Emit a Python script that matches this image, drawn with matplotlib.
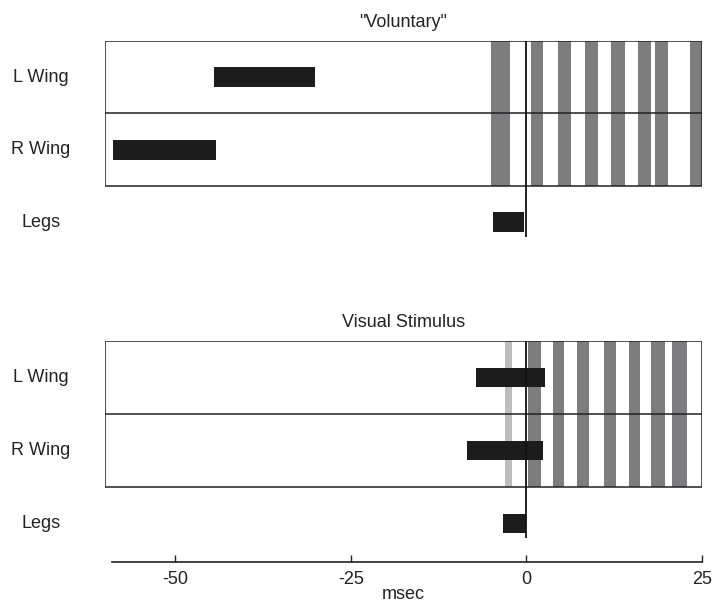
import matplotlib
matplotlib.use('Agg')
import matplotlib.pyplot as plt
from matplotlib.patches import Rectangle

plt.rcParams['font.family'] = ['Liberation Sans', 'DejaVu Sans']
plt.rcParams['axes.unicode_minus'] = False

# === DATOS ===
filas = ['L Wing', 'R Wing', 'Legs']

# franjas grises (inicio, fin) en msec
franjas_vol = [(-5.0, -2.3), (0.7, 2.3), (4.5, 6.3), (8.4, 10.2),
               (12.1, 14.0), (15.9, 17.7), (18.3, 20.1), (23.3, 25.0)]
franjas_vis = [(0.2, 2.1), (3.85, 5.4), (7.25, 8.9), (11.0, 12.7),
               (14.6, 16.2), (17.7, 19.7), (20.75, 22.9)]
franja_clara_vis = [(-3.1, -2.0)]

# barras negras (inicio, fin) por fila
barras_vol = [(-44.5, -30.1), (-58.8, -44.2), (-4.8, -0.4)]
barras_vis = [(-7.2, 2.6), (-8.5, 2.3), (-3.4, -0.1)]

ticks_x = [-50, -25, 0, 25]

# === ESTILO ===
gris = '#7d7d80'
gris_claro = '#bdbdbd'
negro = '#1c1c1c'
x_min, x_max = -60, 25


def dibujar_panel(ax, titulo, franjas, barras, franjas_claras=()):
    ax.set_xlim(x_min, x_max)
    ax.set_ylim(2.75, 0)

    # franjas dentro de la caja (filas 0..2)
    if franjas_claras:
        ax.broken_barh([(a, b - a) for a, b in franjas_claras], (0, 2),
                       facecolors=gris_claro, edgecolor='none', zorder=1)
    ax.broken_barh([(a, b - a) for a, b in franjas], (0, 2),
                   facecolors=gris, edgecolor='none', zorder=1)

    # caja y divisor
    ax.add_patch(Rectangle((x_min, 0), x_max - x_min, 2, fill=False,
                           edgecolor='#222222', lw=1.1, zorder=3))
    ax.hlines(1, x_min, x_max, color='#222222', lw=1.1, zorder=3)

    # barras negras
    centros = [i + 0.5 for i in range(len(filas))]
    ax.barh(centros, [b - a for a, b in barras], left=[a for a, b in barras],
            height=0.27, color=negro, zorder=4)

    # linea en cero
    ax.vlines(0, 0, 2.7, color='#111111', lw=1.3, zorder=5)

    for y, nombre in zip(centros, filas):
        ax.text(-69.1, y, nombre, ha='center', va='center', fontsize=13,
                color='#222222', clip_on=False)

    ax.set_title(titulo, fontsize=13, pad=10, color='#222222')
    ax.set_yticks([])
    for s in ['top', 'right', 'left']:
        ax.spines[s].set_visible(False)


fig = plt.figure(figsize=(7.14, 6.02), dpi=100)
ax1 = fig.add_axes([105 / 714, 0.6007, 597 / 714, 0.3312])
ax2 = fig.add_axes([105 / 714, 0.1001, 597 / 714, 0.3335])

dibujar_panel(ax1, '"Voluntary"', franjas_vol, barras_vol)
dibujar_panel(ax2, 'Visual Stimulus', franjas_vis, barras_vis, franja_clara_vis)

# eje superior sin marcas
ax1.spines['bottom'].set_visible(False)
ax1.set_xticks([])

# === EJE X INFERIOR ===
ax2.spines['bottom'].set_position(('outward', 14.4))
ax2.spines['bottom'].set_bounds(-59, 25)
ax2.spines['bottom'].set_linewidth(1.2)
ax2.spines['bottom'].set_color('#222222')
ax2.set_xticks(ticks_x)
ax2.set_xticklabels([str(t) for t in ticks_x])
ax2.tick_params(axis='x', direction='in', length=5, width=1, pad=7,
                labelsize=13, colors='#222222')
ax2.set_xlabel('msec', fontsize=13, labelpad=-2, color='#222222')

fig.savefig('out.png', dpi=100)
